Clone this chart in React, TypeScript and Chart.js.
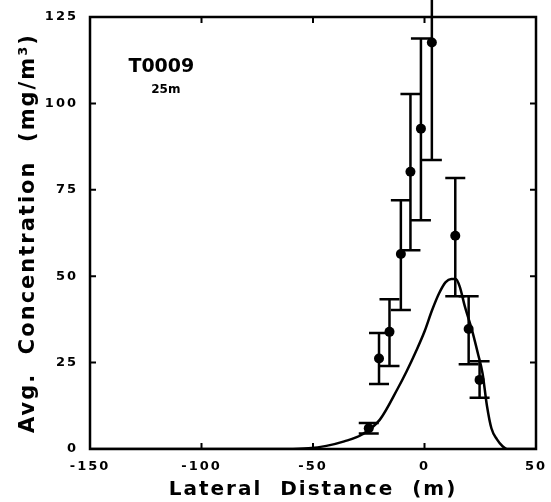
import React, { useEffect, useRef } from "react";
import { Chart, registerables } from "chart.js";

Chart.register(...registerables);

// Axis ticks
const xTicks = [-150, -100, -50, 0, 50];
const yTicks = [0, 25, 50, 75, 100, 125];

// Measured points (lateral distance m, concentration mg/m3)
const pointX = [-25, -20.4, -15.7, -10.6, -6.3, -1.6, 3.3, 13.8, 19.8, 24.7];
const pointY = [6.0, 26.2, 33.9, 56.4, 80.2, 92.7, 117.6, 61.7, 34.7, 20.0];
const errLow = [4.5, 18.8, 24.0, 40.2, 57.5, 66.2, 83.6, 44.2, 24.5, 14.8];
const errHigh = [7.5, 33.6, 43.3, 72.0, 102.7, 118.8, 130, 78.4, 44.2, 25.4];

// Model curve
const curveX = [-150, -100, -62, -52, -44, -36, -28, -20, -12, -8, -4, 0, 3.3, 6.5, 9.5, 12, 14, 15.8, 18, 21.3, 24, 26, 28, 30, 32.5, 35, 37, 50];
const curveY = [0, 0, 0, 0.2, 0.9, 2.2, 4.2, 8.5, 17.5, 22.5, 28, 34, 40, 45, 48.3, 49.2, 49.2, 47, 41.5, 34.4, 27.5, 22, 12.5, 6, 2.8, 0.8, 0, 0];

const label1 = "T0009";
const label2 = "25m";

export default function App() {
  const ref = useRef<HTMLCanvasElement>(null);

  useEffect(() => {
    const canvas = ref.current;
    if (!canvas) return;
    const FONT = "'DejaVu Sans', sans-serif";

    const spacing = {
      id: "spacing",
      beforeDraw(chart: any) {
        chart.ctx.letterSpacing = "2px";
      },
      afterDraw(chart: any) {
        chart.ctx.letterSpacing = "0px";
      },
    };

    const frame = {
      id: "frame",
      afterDraw(chart: any) {
        const { ctx, chartArea: a, scales } = chart;
        ctx.save();
        ctx.strokeStyle = "#000";
        ctx.lineWidth = 2.5;
        ctx.strokeRect(a.left, a.top, a.right - a.left, a.bottom - a.top);
        ctx.lineWidth = 2;
        const len = 6;
        xTicks.forEach((v) => {
          const px = scales.x.getPixelForValue(v);
          if (px <= a.left + 1 || px >= a.right - 1) return;
          ctx.beginPath();
          ctx.moveTo(px, a.bottom);
          ctx.lineTo(px, a.bottom - len);
          ctx.moveTo(px, a.top);
          ctx.lineTo(px, a.top + len);
          ctx.stroke();
        });
        yTicks.forEach((v) => {
          const py = scales.y.getPixelForValue(v);
          if (py <= a.top + 1 || py >= a.bottom - 1) return;
          ctx.beginPath();
          ctx.moveTo(a.left, py);
          ctx.lineTo(a.left + len, py);
          ctx.moveTo(a.right, py);
          ctx.lineTo(a.right - len, py);
          ctx.stroke();
        });
        // annotation
        ctx.fillStyle = "#000";
        ctx.textAlign = "center";
        ctx.textBaseline = "middle";
        ctx.font = "bold 19px " + FONT;
        ctx.fillText(label1, scales.x.getPixelForValue(-118), scales.y.getPixelForValue(110.5));
        ctx.font = "bold 12px " + FONT;
        ctx.fillText(label2, scales.x.getPixelForValue(-116), scales.y.getPixelForValue(103.8));
        ctx.restore();
      },
    };

    const errorBars = {
      id: "errorBars",
      afterDatasetsDraw(chart: any) {
        const { ctx, scales } = chart;
        ctx.save();
        ctx.strokeStyle = "#000";
        ctx.lineWidth = 2.5;
        const cap = 10;
        pointX.forEach((xv, i) => {
          const px = scales.x.getPixelForValue(xv);
          const pLo = scales.y.getPixelForValue(errLow[i]);
          const pHi = scales.y.getPixelForValue(errHigh[i]);
          ctx.beginPath();
          ctx.moveTo(px, pLo);
          ctx.lineTo(px, pHi);
          ctx.moveTo(px - cap, pLo);
          ctx.lineTo(px + cap, pLo);
          if (errHigh[i] <= 125) {
            ctx.moveTo(px - cap, pHi);
            ctx.lineTo(px + cap, pHi);
          }
          ctx.stroke();
        });
        ctx.restore();
      },
    };

    const zeroPad = (s: any) => {
      s.paddingLeft = 0;
      s.paddingRight = 0;
      s.paddingTop = 0;
      s.paddingBottom = 0;
    };

    const chart = new Chart(canvas, {
      type: "scatter",
      data: {
        datasets: [
          {
            label: "model",
            data: curveX.map((x, i) => ({ x, y: curveY[i] })),
            showLine: true,
            borderColor: "#000",
            borderWidth: 2.5,
            pointRadius: 0,
            cubicInterpolationMode: "monotone",
            fill: false,
          },
          {
            label: "observed",
            data: pointX.map((x, i) => ({ x, y: pointY[i] })),
            showLine: false,
            pointRadius: 5,
            pointBackgroundColor: "#000",
            pointBorderColor: "#000",
            borderWidth: 0,
          },
        ],
      },
      options: {
        responsive: false,
        animation: false,
        layout: { padding: { top: 17, right: 15, left: 0, bottom: 0 } },
        plugins: {
          legend: { display: false },
          tooltip: { enabled: false },
        },
        scales: {
          x: {
            type: "linear",
            min: -150,
            max: 50,
            afterBuildTicks: (s: any) => {
              s.ticks = xTicks.map((v) => ({ value: v }));
            },
            afterFit: (s: any) => {
              s.height = 53;
              zeroPad(s);
            },
            grid: { display: false, drawTicks: false, tickLength: 0 },
            border: { display: false },
            ticks: {
              color: "#000",
              font: { family: FONT, size: 13, weight: "bold" },
              padding: 10,
              maxRotation: 0,
              autoSkip: false,
            },
            title: {
              display: true,
              text: "Lateral  Distance  (m)",
              color: "#000",
              font: { family: FONT, size: 20, weight: "bold" },
              padding: { top: 0, bottom: 0 },
            },
          },
          y: {
            type: "linear",
            min: 0,
            max: 125,
            afterBuildTicks: (s: any) => {
              s.ticks = yTicks.map((v) => ({ value: v }));
            },
            afterFit: (s: any) => {
              s.width = 90;
              zeroPad(s);
            },
            grid: { display: false, drawTicks: false, tickLength: 0 },
            border: { display: false },
            ticks: {
              color: "#000",
              font: { family: FONT, size: 13, weight: "bold" },
              padding: 12,
            },
            title: {
              display: true,
              text: "Avg.  Concentration  (mg/m³)",
              color: "#000",
              font: { family: FONT, size: 21, weight: "bold" },
              padding: { top: 16, bottom: 0 },
            },
          },
        },
      },
      plugins: [spacing, errorBars, frame],
    } as any);

    return () => chart.destroy();
  }, []);

  return (
    <div style={{ position: "fixed", left: 0, top: 0, width: 551, height: 502, background: "#fff" }}>
      <canvas ref={ref} width={551} height={502} style={{ display: "block" }} />
    </div>
  );
}
